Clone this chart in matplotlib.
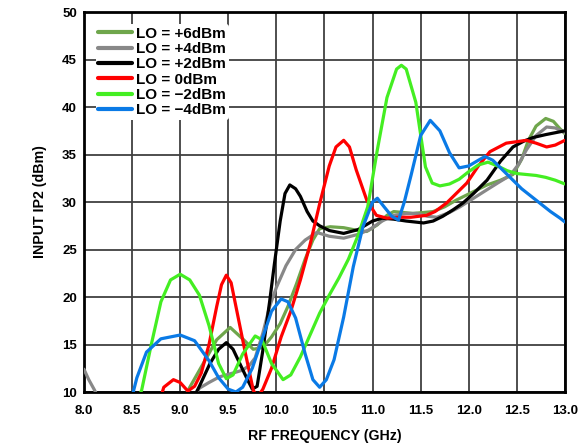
import numpy as np
import matplotlib
matplotlib.use("Agg")
import matplotlib.pyplot as plt

plt.rcParams['font.family'] = ['Liberation Sans', 'DejaVu Sans']
plt.rcParams['font.weight'] = 'bold'

labels = ["LO = +6dBm", "LO = +4dBm", "LO = +2dBm", "LO = 0dBm", "LO = \u22122dBm", "LO = \u22124dBm"]
colors = ["#6fa64c", "#888888", "#000000", "#ff0000", "#44ee22", "#0a7ae6"]

x_p6 = [9.05, 9.1, 9.24, 9.38, 9.52, 9.66, 9.76, 9.86, 9.95, 10.04, 10.12, 10.21, 10.3, 10.38, 10.45,
        10.56, 10.7, 10.85, 10.94, 11.05, 11.15, 11.22, 11.32, 11.42, 11.53, 11.63, 11.75, 11.87, 12.03,
        12.19, 12.33, 12.46, 12.55, 12.62, 12.7, 12.8, 12.88, 12.95, 13.0]
y_p6 = [9.5, 10.5, 13.0, 15.5, 16.8, 15.5, 14.5, 14.7, 15.8, 17.2, 19.0, 21.4, 24.0, 26.0, 27.2,
        27.4, 27.3, 27.0, 26.9, 27.6, 28.6, 29.0, 28.9, 28.8, 28.9, 29.0, 29.5, 30.2, 31.0,
        31.8, 32.3, 32.9, 34.5, 36.5, 38.0, 38.8, 38.5, 37.7, 37.2]

x_p4 = [8.0, 8.05, 8.11, 8.15, 8.16, 9.14, 9.15, 9.2, 9.3, 9.41, 9.55, 9.65, 9.72, 9.78, 9.86, 9.93, 10.0,
        10.1, 10.2, 10.3, 10.42, 10.55, 10.7, 10.85, 10.97, 11.1, 11.22, 11.35, 11.46, 11.57, 11.67,
        11.8, 11.91, 12.05, 12.19, 12.3, 12.43, 12.52, 12.6, 12.7, 12.81, 12.9, 13.0]
y_p4 = [12.4, 11.3, 10.2, 9.4, np.nan, np.nan, 9.6, 10.4, 11.0, 11.6, 12.0, 12.3, 12.8, 13.6, 16.2, 19.0, 21.0,
        23.3, 25.0, 26.0, 26.8, 26.4, 26.2, 26.6, 27.1, 28.0, 28.6, 28.8, 28.8, 28.5, 28.4,
        28.9, 29.5, 30.4, 31.3, 32.0, 32.8, 34.0, 35.5, 37.0, 37.9, 37.8, 37.3]

x_p2 = [9.15, 9.2, 9.31, 9.4, 9.48, 9.55, 9.62, 9.7, 9.75, 9.8, 9.86, 9.93, 9.98, 10.04, 10.09, 10.14,
        10.2, 10.25, 10.32, 10.38, 10.45, 10.55, 10.7, 10.85, 11.0, 11.1, 11.22, 11.35, 11.53, 11.63,
        11.73, 11.84, 11.94, 12.05, 12.19, 12.33, 12.46, 12.57, 12.67, 12.8, 12.9, 13.0]
y_p2 = [9.6, 10.6, 13.0, 14.5, 15.2, 14.5, 13.0, 11.3, 10.3, 10.6, 14.4, 19.5, 23.5, 28.0, 30.9, 31.8,
        31.4, 30.6, 29.0, 28.0, 27.5, 27.0, 26.7, 27.1, 28.0, 28.3, 28.2, 28.0, 27.8, 28.0,
        28.5, 29.2, 29.9, 30.9, 32.3, 34.3, 35.8, 36.4, 36.8, 37.1, 37.3, 37.5]

x_0 = [8.8, 8.83, 8.93, 9.0, 9.08, 9.15, 9.22, 9.3, 9.38, 9.43, 9.48, 9.53, 9.6, 9.68, 9.76, 9.8, 9.86,
       9.95, 10.05, 10.15, 10.25, 10.35, 10.45, 10.55, 10.62, 10.7, 10.76, 10.83, 10.94, 11.04, 11.15,
       11.28, 11.4, 11.56, 11.65, 11.77, 11.88, 11.98, 12.1, 12.22, 12.39, 12.6, 12.7, 12.81, 12.9, 13.0]
y_0 = [9.5, 10.5, 11.3, 11.0, 10.1, 10.6, 12.0, 15.0, 19.0, 21.3, 22.3, 21.5, 18.0, 14.0, 10.2, 9.4, 10.3,
       12.5, 15.8, 18.5, 21.8, 25.5, 29.8, 33.8, 35.8, 36.5, 35.8, 33.4, 30.2, 28.6, 28.3,
       28.4, 28.4, 28.6, 29.0, 29.9, 31.0, 32.0, 33.8, 35.3, 36.2, 36.5, 36.2, 35.8, 36.0, 36.5]

x_m2 = [8.55, 8.6, 8.7, 8.8, 8.9, 9.0, 9.1, 9.2, 9.3, 9.4, 9.48, 9.55, 9.65, 9.78, 9.85, 9.95, 10.07,
        10.15, 10.25, 10.35, 10.45, 10.55, 10.65, 10.75, 10.85, 10.95, 11.05, 11.15, 11.25, 11.3, 11.35,
        11.45, 11.55, 11.62, 11.7, 11.8, 11.9, 12.0, 12.1, 12.2, 12.3, 12.4, 12.5, 12.6, 12.7, 12.8,
        12.9, 13.0]
y_m2 = [9.0, 10.2, 15.0, 19.5, 21.8, 22.4, 21.8, 20.2, 17.0, 13.0, 11.4, 11.8, 14.0, 15.9, 15.5, 13.0, 11.3,
        11.8, 13.7, 16.0, 18.3, 20.2, 22.0, 24.0, 26.5, 29.5, 35.5, 41.0, 44.0, 44.4, 44.0,
        40.5, 33.7, 32.0, 31.7, 31.9, 32.4, 33.2, 33.9, 34.2, 33.8, 33.3, 33.0, 32.9, 32.8, 32.6,
        32.3, 31.9]

x_m4 = [8.5, 8.55, 8.65, 8.8, 9.0, 9.15, 9.3, 9.4, 9.5, 9.58, 9.65, 9.75, 9.85, 9.95, 10.05, 10.12, 10.2,
        10.3, 10.38, 10.45, 10.52, 10.6, 10.7, 10.8, 10.9, 11.0, 11.05, 11.12, 11.2, 11.27, 11.33, 11.4,
        11.5, 11.6, 11.7, 11.8, 11.9, 12.0, 12.1, 12.17, 12.25, 12.35, 12.45, 12.55, 12.65, 12.75,
        12.85, 12.95, 13.0]
y_m4 = [9.5, 11.5, 14.2, 15.6, 16.0, 15.4, 13.3, 11.5, 10.3, 10.0, 10.5, 12.5, 15.5, 18.5, 19.8, 19.5, 17.8,
        14.0, 11.3, 10.5, 11.3, 13.4, 17.9, 23.2, 27.4, 30.0, 30.4, 29.5, 28.5, 28.1, 30.0, 32.8,
        37.0, 38.6, 37.5, 35.2, 33.6, 33.8, 34.4, 34.8, 34.4, 33.4, 32.4, 31.4, 30.6, 29.8,
        29.0, 28.3, 27.9]

series_x = [x_p6, x_p4, x_p2, x_0, x_m2, x_m4]
series_y = [y_p6, y_p4, y_p2, y_0, y_m2, y_m4]

fig = plt.figure(figsize=(5.83, 4.48), dpi=100)
ax = fig.add_axes([0.144, 0.125, 0.825, 0.848])

order = [4, 5, 3, 1, 2, 0]
handles = [None] * 6
for i in order:
    ln, = ax.plot(series_x[i], series_y[i], color=colors[i], lw=2.3, solid_capstyle='round',
                  solid_joinstyle='round', zorder=3 + i * 0.1)
    handles[i] = ln

ax.set_xlim(8.0, 13.0)
ax.set_ylim(10, 50)
ax.set_xticks(np.arange(8.0, 13.01, 0.5))
ax.set_xticklabels([f"{v:.1f}" for v in np.arange(8.0, 13.01, 0.5)])
ax.set_yticks(np.arange(10, 51, 5))
ax.grid(True, color='#404040', lw=1.3)
ax.set_axisbelow(True)
ax.tick_params(axis='x', length=0, labelsize=9.5, pad=9)
ax.tick_params(axis='y', length=0, labelsize=9.5, pad=5)
for lab in ax.get_xticklabels() + ax.get_yticklabels():
    lab.set_fontweight('bold')
for sp in ax.spines.values():
    sp.set_linewidth(2.0)
    sp.set_color('black')

ax.set_xlabel("RF FREQUENCY (GHz)", fontsize=10.2, fontweight='bold', labelpad=9)
ax.set_ylabel("INPUT IP2 (dBm)", fontsize=10.2, fontweight='bold', labelpad=11)

leg = ax.legend(handles, labels, loc='upper left', bbox_to_anchor=(0.025, 0.968), frameon=True,
                fontsize=11, handlelength=2.2, handletextpad=0.3, labelspacing=0.09,
                borderpad=0.15, borderaxespad=0.0)
leg.get_frame().set_facecolor('white')
leg.get_frame().set_edgecolor('none')
leg.get_frame().set_alpha(1.0)
for t in leg.get_texts():
    t.set_fontweight('bold')
for l in leg.get_lines():
    l.set_linewidth(3.0)

fig.savefig("out.png", dpi=100)
